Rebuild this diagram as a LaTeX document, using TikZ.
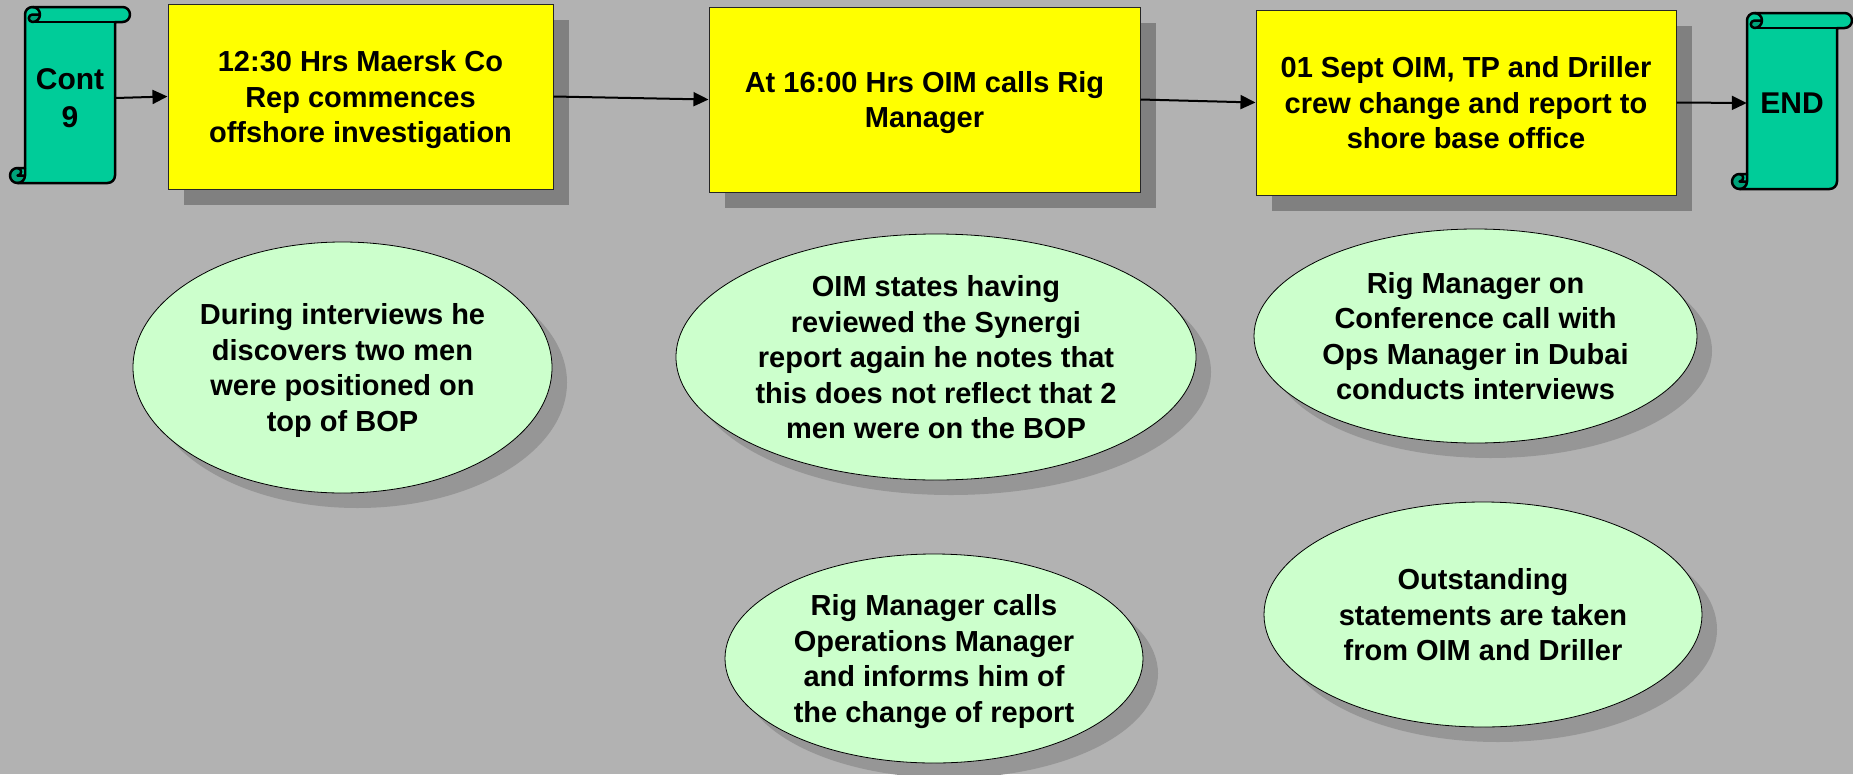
\documentclass[tikz,border=0pt]{standalone}
\usepackage{fontspec}
\setmainfont{Liberation Sans}
\usetikzlibrary{arrows.meta,shapes.geometric,shadows}

\definecolor{pagegray}{HTML}{B2B2B2}
\definecolor{boxshadow}{HTML}{808080}
\definecolor{ellshadow}{HTML}{969696}
\definecolor{stepyellow}{HTML}{FFFF00}
\definecolor{notegreen}{HTML}{CCFFCC}
\definecolor{scrollgreen}{HTML}{00CC99}
\definecolor{scrolldark}{HTML}{00A37A}

% vertical scroll: left x, top y, width, height (roll thickness 15)
\newcommand{\scrollshape}[4]{%
  \pgfmathsetmacro{\scrL}{#1}\pgfmathsetmacro{\scrT}{#2}%
  \pgfmathsetmacro{\scrR}{#1+#3}\pgfmathsetmacro{\scrB}{#2+#4}%
  \fill[scrollgreen] (\scrL+15,\scrB-15) -- (\scrL+15,\scrT+7.5)
    arc[start angle=180,delta angle=90,radius=7.5] -- (\scrR-7.5,\scrT)
    arc[start angle=270,delta angle=180,radius=7.5] -- (\scrR-15,\scrT+15)
    -- (\scrR-15,\scrB-7.5) arc[start angle=0,delta angle=90,radius=7.5]
    -- (\scrL+7.5,\scrB) arc[start angle=90,delta angle=180,radius=7.5] -- cycle;
  \fill[scrolldark] (\scrL+30,\scrT+7.5) arc[start angle=0,delta angle=90,radius=7.5]
    arc[start angle=90,delta angle=180,radius=3.75] -- cycle;
  \fill[scrolldark] (\scrL+15,\scrB-7.5) arc[start angle=0,delta angle=270,radius=7.5]
    arc[start angle=270,delta angle=180,radius=3.75] -- cycle;
  \draw[scrollline] (\scrL+15,\scrB-15) -- (\scrL+15,\scrT+7.5)
    arc[start angle=180,delta angle=90,radius=7.5] -- (\scrR-7.5,\scrT)
    arc[start angle=270,delta angle=180,radius=7.5] -- (\scrR-15,\scrT+15)
    -- (\scrR-15,\scrB-7.5) arc[start angle=0,delta angle=90,radius=7.5]
    -- (\scrL+7.5,\scrB) arc[start angle=90,delta angle=180,radius=7.5] -- cycle;
  \draw[scrollline] (\scrL+22.5,\scrT) arc[start angle=270,delta angle=180,radius=7.5]
    arc[start angle=90,delta angle=180,radius=3.75] -- (\scrL+30,\scrT+7.5);
  \draw[scrollline] (\scrR-15,\scrT+15) -- (\scrL+22.5,\scrT+15);
  \draw[scrollline] (\scrL+7.5,\scrB-15) arc[start angle=270,delta angle=180,radius=3.75]
    -- (\scrL+15,\scrB-7.5);
  \draw[scrollline] (\scrL+7.5,\scrB) arc[start angle=90,delta angle=-90,radius=7.5]
    -- (\scrL+15,\scrB-15);
}

\begin{document}
\begin{tikzpicture}[x=1pt,y=-1pt,
  every node/.style={font=\bfseries\fontsize{29}{35.5}\selectfont, align=center,
    text depth=0pt},
  event/.style={rectangle, draw=black!85, line width=1pt, fill=stepyellow,
    inner sep=0pt, minimum height=185pt,
    general shadow={fill=boxshadow, shadow xshift=16pt, shadow yshift=-16pt}},
  note/.style={ellipse, draw=black, line width=0.8pt, fill=notegreen, inner sep=0pt,
    general shadow={fill=ellshadow, shadow xshift=15pt, shadow yshift=-15pt}},
  scrollline/.style={line width=2.5pt, line join=round, draw=black},
  scrolltext/.style={font=\bfseries\fontsize{30}{38}\selectfont, inner sep=0pt,
    minimum width=90pt, minimum height=150pt},
  arr/.style={line width=2pt, -{Triangle[length=15pt,width=14pt]}},
]
\fill[pagegray] (0,0) rectangle (1853,774);
\useasboundingbox (0,0) rectangle (1853,774);

% start and end scrolls
\scrollshape{10}{7}{120}{176}
\scrollshape{1732}{13}{120}{176}
\node[scrolltext] (cont) at (70,98) {Cont\\9};
\node[scrolltext] (fin) at (1792,103) {END};

% timeline steps
\node[event, minimum width=385pt] (b1) at (360.5,96.5)
  {12:30 Hrs Maersk Co\\Rep commences\\offshore investigation};
\node[event, minimum width=431pt] (b2) at (924.5,99.5)
  {At 16:00 Hrs OIM calls Rig\\Manager};
\node[event, minimum width=420pt] (b3) at (1466,102.5)
  {01 Sept OIM, TP and Driller\\crew change and report to\\shore base office};

% flow
\draw[arr] (cont.east) -- (b1.west);
\draw[arr] (b1.east) -- (b2.west);
\draw[arr] (b2.east) -- (b3.west);
\draw[arr] (b3.east) -- (fin.west);

% supporting notes
\node[note, minimum width=419pt, minimum height=251pt] (n1) at (342.5,367.5)
  {During interviews he\\discovers two men\\were positioned on\\top of BOP};
\node[note, minimum width=520pt, minimum height=246pt] (n2) at (936,357)
  {OIM states having\\reviewed the Synergi\\report again he notes that\\this does not reflect that 2\\men were on the BOP};
\node[note, minimum width=443pt, minimum height=214pt] (n3) at (1475.5,336)
  {Rig Manager on\\Conference call with\\Ops Manager in Dubai\\conducts interviews};
\node[note, minimum width=418pt, minimum height=209pt] (n4) at (934,658.5)
  {Rig Manager calls\\Operations Manager\\and informs him of\\the change of report};
\node[note, minimum width=438pt, minimum height=225pt] (n5) at (1483,614.5)
  {Outstanding\\statements are taken\\from OIM and Driller};
\end{tikzpicture}
\end{document}
